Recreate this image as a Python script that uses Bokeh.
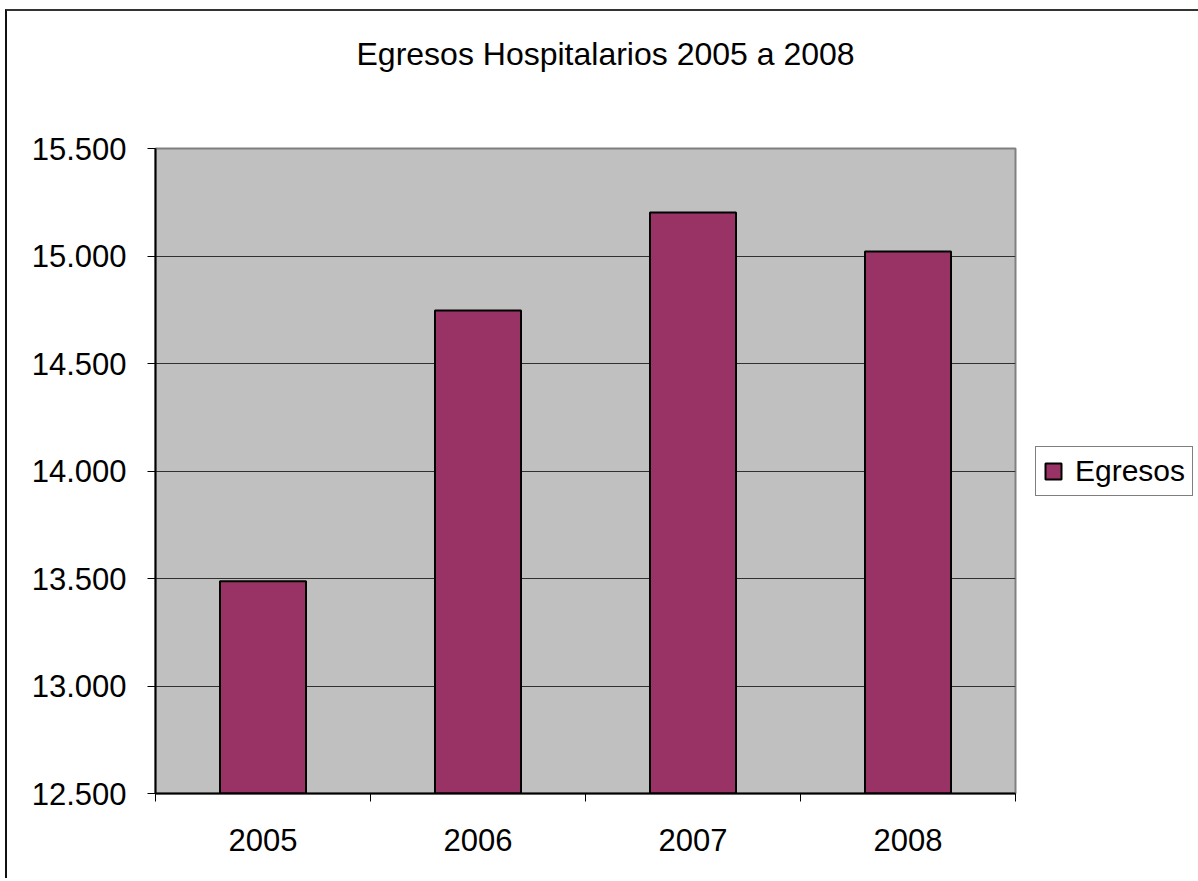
from bokeh.plotting import figure
from bokeh.models import FixedTicker, Range1d, Legend, LegendItem, ColumnDataSource
from bokeh.embed import file_html
from bokeh.resources import INLINE

# ---- data ----
years = ["2005", "2006", "2007", "2008"]
egresos = [13487, 14746, 15202, 15021]
y_ticks = [12500, 13000, 13500, 14000, 14500, 15000, 15500]
y_tick_labels = ["12.500", "13.000", "13.500", "14.000", "14.500", "15.000", "15.500"]
title_text = "Egresos Hospitalarios 2005 a 2008"
series_name = "Egresos"

FONT = "Liberation Sans"

x_pos = [i + 0.5 for i in range(len(years))]
src = ColumnDataSource(dict(x=x_pos, top=egresos, year=years))

p = figure(frame_width=860, frame_height=645, output_backend="svg", toolbar_location=None,
           x_range=Range1d(0, len(years)), y_range=Range1d(y_ticks[0], y_ticks[-1]),
           min_border_left=148, min_border_right=180, min_border_top=137,
           min_border_bottom=85, background_fill_color="#C0C0C0",
           border_fill_color="white")
p.styles = {"border-left": "2px solid #111", "border-top": "2px solid #333",
            "margin-left": "5px", "margin-top": "9px"}

p.title.text = title_text + "\n "
p.title.text_font = FONT
p.title.text_font_size = "32px"
p.title.text_font_style = "normal"
p.title.text_color = "black"
p.title.text_line_height = 2.0
p.title.align = "left"
p.title.offset = 201

bars = p.vbar(x="x", top="top", bottom=y_ticks[0], width=0.4, source=src,
              fill_color="#993366", line_color="black", line_width=2)

p.outline_line_color = "#808080"
p.outline_line_width = 2

# y axis
ya = p.yaxis[0]
ya.ticker = FixedTicker(ticks=y_ticks)
ya.major_label_overrides = {t: l for t, l in zip(y_ticks, y_tick_labels)}
ya.major_label_text_font = FONT
ya.major_label_text_font_size = "31px"
ya.major_label_text_color = "black"
ya.major_tick_out = 8
ya.major_tick_in = 0
ya.minor_tick_out = 0
ya.minor_tick_in = 0
ya.major_label_standoff = 21
ya.axis_line_color = "black"
ya.axis_line_width = 2
ya.major_tick_line_color = "black"
ya.major_tick_line_width = 1

# x axis: labels at centers, ticks at boundaries
xa = p.xaxis[0]
xa.ticker = FixedTicker(ticks=x_pos, minor_ticks=list(range(len(years) + 1)))
xa.major_label_overrides = {x: y for x, y in zip(x_pos, years)}
xa.major_label_text_font = FONT
xa.major_label_text_font_size = "31px"
xa.major_label_text_color = "black"
xa.major_tick_out = 0
xa.major_tick_in = 0
xa.minor_tick_out = 8
xa.minor_tick_in = 0
xa.minor_tick_line_color = "black"
xa.minor_tick_line_width = 1
xa.major_label_standoff = 27
xa.axis_line_color = "black"
xa.axis_line_width = 2

p.xgrid.grid_line_color = None
p.ygrid.ticker = FixedTicker(ticks=y_ticks)
p.ygrid.grid_line_color = "#303030"
p.ygrid.grid_line_width = 1

legend = Legend(items=[LegendItem(label=series_name, renderers=[bars])],
                location="center_left", orientation="vertical")
legend.margin = 20
legend.padding = 7
legend.spacing = 0
legend.glyph_width = 20
legend.glyph_height = 20
legend.label_standoff = 12
legend.label_text_font = FONT
legend.label_text_font_size = "30px"
legend.label_text_color = "black"
legend.border_line_color = "black"
legend.border_line_width = 1
legend.background_fill_color = "white"
legend.background_fill_alpha = 1
p.add_layout(legend, "right")

open("out.html", "w").write(file_html(p, INLINE))
